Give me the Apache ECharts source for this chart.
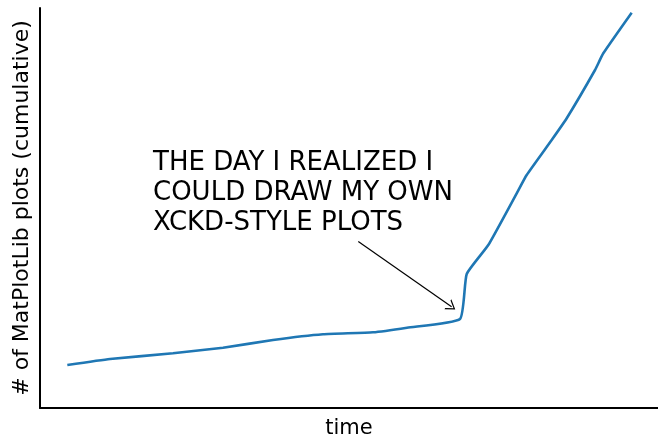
<!DOCTYPE html>
<html><head><meta charset="utf-8">
<script src="https://cdn.jsdelivr.net/npm/echarts@6/dist/echarts.min.js"></script>
<style>html,body{margin:0;padding:0;background:#fff;width:100%;height:100%;overflow:hidden}#c{width:658px;height:438px}</style>
</head><body><div id="c"></div>
<script>
var timeVals = [4.42, 11.33, 21.52, 29.61, 37.70, 45.79, 53.88, 59.39, 67.96, 69.05, 72.54, 77.14, 78.75, 82.80, 85.23, 89.81, 91.15, 95.74];
var plotCounts = [10.75, 12.25, 13.68, 15.08, 17.0, 18.43, 18.93, 20.08, 22.25, 33.5, 40.75, 53.68, 58.25, 67.0, 72.43, 84.5, 88.68, 98.83];
var annotationLines = ['THE DAY I REALIZED I', 'COULD DRAW MY OWN', 'XCKD-STYLE PLOTS'];
var arrowFrom = [51.5, 41.6];
var arrowTo = [66.6, 25.3];
var xLabel = 'time';
var yLabel = '# of MatPlotLib plots (cumulative)';

var font = 'DejaVu Sans';
var chart = echarts.init(document.getElementById('c'), null, {renderer: 'canvas', width: 658, height: 438});
var data = timeVals.map(function (x, i) { return [x, plotCounts[i]]; });
chart.setOption({
  animation: false,
  grid: {left: 40, right: 0, top: 8, bottom: 30, containLabel: false, outerBoundsMode: 'none'},
  xAxis: {
    type: 'value', min: 0, max: 100,
    name: xLabel, nameLocation: 'middle', nameGap: 10,
    nameTextStyle: {fontFamily: font, fontSize: 21, color: '#000', verticalAlign: 'top'},
    axisLine: {show: true, lineStyle: {color: '#000', width: 2}},
    axisTick: {show: false}, axisLabel: {show: false}, splitLine: {show: false}
  },
  yAxis: {
    type: 'value', min: 0, max: 100,
    name: yLabel, nameLocation: 'middle', nameGap: 7, nameRotate: 90,
    nameTextStyle: {fontFamily: font, fontSize: 22, color: '#000'},
    axisLine: {show: true, lineStyle: {color: '#000', width: 2}},
    axisTick: {show: false}, axisLabel: {show: false}, splitLine: {show: false}
  },
  series: [{
    type: 'line', data: data, showSymbol: false, smooth: 0.15,
    lineStyle: {color: '#1f77b4', width: 2.6},
    markLine: {
      silent: true,
      symbol: ['none', 'path://M0,10 L5,0 L10,10 L8.8,10 L5,2.4 L1.2,10 Z'],
      symbolSize: [12, 9],
      label: {show: false},
      itemStyle: {color: '#000'},
      lineStyle: {color: '#000', width: 1.2, type: 'solid', curveness: -0.08},
      data: [[{coord: arrowFrom}, {coord: arrowTo}]]
    }
  }],
  graphic: [{
    type: 'text', left: 153, top: 148,
    style: {text: annotationLines.join('\n'), fontFamily: font, fontSize: 26, lineHeight: 30, fill: '#000'}
  }]
});
</script></body></html>
